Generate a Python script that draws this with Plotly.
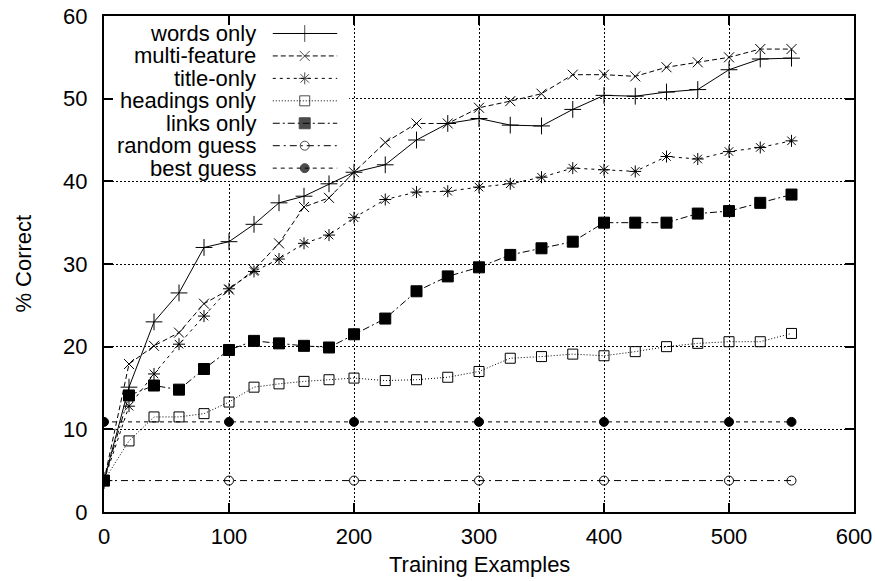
import plotly.graph_objects as go

# ---------------- data ----------------
train_x = [0, 20, 40, 60, 80, 100, 120, 140, 160, 180, 200, 225, 250, 275, 300,
           325, 350, 375, 400, 425, 450, 475, 500, 525, 550]
words_only = [3.8, 15.1, 23.0, 26.5, 32.0, 32.7, 34.8, 37.4, 38.2, 39.7, 41.1, 42.0, 45.0,
              47.0, 47.6, 46.8, 46.7, 48.7, 50.4, 50.3, 50.8, 51.1, 53.5, 54.8, 54.9]
multi_feature = [3.8, 17.9, 20.1, 21.7, 25.2, 26.9, 29.3, 32.5, 36.9, 38.0, 41.1, 44.7, 47.0,
                 47.0, 48.9, 49.7, 50.6, 52.9, 52.9, 52.7, 53.8, 54.4, 55.0, 56.0, 56.0]
title_only = [3.8, 12.8, 16.7, 20.3, 23.7, 27.0, 29.1, 30.6, 32.5, 33.5, 35.6, 37.8, 38.7,
              38.8, 39.3, 39.7, 40.5, 41.6, 41.4, 41.2, 43.0, 42.7, 43.6, 44.1, 44.9]
headings_only = [3.8, 8.6, 11.5, 11.5, 11.9, 13.3, 15.1, 15.5, 15.8, 16.0, 16.2, 15.9, 16.0,
                 16.3, 17.0, 18.6, 18.8, 19.1, 18.9, 19.4, 20.0, 20.4, 20.6, 20.6, 21.6]
links_only = [3.8, 14.1, 15.3, 14.8, 17.3, 19.6, 20.7, 20.4, 20.1, 19.9, 21.5, 23.4, 26.7,
              28.5, 29.6, 31.1, 31.9, 32.7, 35.0, 35.0, 35.0, 36.1, 36.4, 37.4, 38.4]
guess_x = [0, 100, 200, 300, 400, 500, 550]
random_guess = [3.8, 3.8, 3.8, 3.8, 3.8, 3.8, 3.8]
best_guess = [10.9, 10.9, 10.9, 10.9, 10.9, 10.9, 10.9]

series_names = ["words only", "multi-feature", "title-only", "headings only",
                "links only", "random guess", "best guess"]
x_tick_vals = [0, 100, 200, 300, 400, 500, 600]
y_tick_vals = [0, 10, 20, 30, 40, 50, 60]
x_title = "Training Examples"
y_title = "% Correct"

# ---------------- styles ----------------
FONT = "Liberation Sans, Arial, Helvetica, sans-serif"
styles = [
    dict(dash="solid", symbol="cross-thin", size=12, lw=1),
    dict(dash="5px,3px", symbol="x-thin", size=10, lw=1),
    dict(dash="3px,4px", symbol="asterisk", size=10, lw=1),
    dict(dash="1px,2px", symbol="square-open", size=10, lw=1),
    dict(dash="7px,3px,2px,3px", symbol="square", size=11, lw=1),
    dict(dash="7px,4px,2px,4px", symbol="circle-open", size=9, lw=1),
    dict(dash="4px,4px", symbol="circle", size=9, lw=1),
]
data_x = [train_x, train_x, train_x, train_x, train_x, guess_x, guess_x]
data_y = [words_only, multi_feature, title_only, headings_only, links_only,
          random_guess, best_guess]

X_RANGE = [x_tick_vals[0], x_tick_vals[-1]]
Y_RANGE = [y_tick_vals[0], y_tick_vals[-1]]

W, H = 875, 581
L, R, T, B = 103.5, 20.5, 15.5, 69.3
pw, ph = W - L - R, H - T - B

def fx(px):
    return (px - L) / pw

def fy(py):
    return (H - B - py) / ph

fig = go.Figure()

# opaque key box (drawn first, above the grid, below the data): hides grid behind the key
kx1 = X_RANGE[0] + fx(349) * (X_RANGE[1] - X_RANGE[0])
ky0 = Y_RANGE[0] + fy(180.5) * (Y_RANGE[1] - Y_RANGE[0])
fig.add_trace(go.Scatter(
    x=[X_RANGE[0], kx1, kx1, X_RANGE[0], X_RANGE[0]],
    y=[ky0, ky0, Y_RANGE[1], Y_RANGE[1], ky0],
    mode="lines", fill="toself", fillcolor="white", line=dict(width=0),
    showlegend=False, hoverinfo="skip",
))

for name, xs, ys, st in zip(series_names, data_x, data_y, styles):
    fig.add_trace(go.Scatter(
        x=xs, y=ys, name=name, mode="lines+markers", showlegend=False,
        line=dict(color="black", width=1, dash=st["dash"]),
        marker=dict(symbol=st["symbol"], size=st["size"], color="black",
                    line=dict(color="black", width=st["lw"])),
    ))

# ---------------- custom legend (gnuplot style: text right, sample on the right) ----------------
row0, row_step = 33.0, 22.45
for i, (name, st) in enumerate(zip(series_names, styles)):
    yy = fy(row0 + i * row_step)
    fig.add_annotation(text=name, xref="paper", yref="paper", x=fx(258), y=yy,
                       xanchor="right", yanchor="middle", showarrow=False,
                       font=dict(family=FONT, size=22, color="black"))
    fig.add_trace(go.Scatter(
        x=[fx(272.5), fx(304.5), fx(337)], y=[yy, yy, yy], mode="lines+markers",
        xaxis="x2", yaxis="y2", showlegend=False, hoverinfo="skip",
        line=dict(color="black", width=1, dash=st["dash"]),
        marker=dict(symbol=st["symbol"], size=[0, st["size"], 0], color="black",
                    line=dict(color="black", width=st["lw"])),
    ))

# axis titles
fig.add_annotation(text=x_title, xref="paper", yref="paper", x=0.5, y=fy(564),
                   xanchor="center", yanchor="middle", showarrow=False,
                   font=dict(family=FONT, size=22, color="black"))
fig.add_annotation(text=y_title, xref="paper", yref="paper", x=fx(22), y=0.5,
                   xanchor="center", yanchor="middle", showarrow=False, textangle=-90,
                   font=dict(family=FONT, size=22, color="black"))

axis_common = dict(
    showline=True, linecolor="black", linewidth=2, mirror="ticks",
    ticks="inside", ticklen=9, tickwidth=1.5, tickcolor="black",
    showgrid=True, gridcolor="#000000", gridwidth=1, griddash="2px,2px",
    zeroline=False, automargin=False,
    tickfont=dict(family=FONT, size=22, color="black"),
)

fig.update_layout(
    width=W, height=H,
    margin=dict(l=L, r=R, t=T, b=B, autoexpand=False),
    paper_bgcolor="white", plot_bgcolor="white",
    xaxis=dict(range=X_RANGE, tickvals=x_tick_vals, ticklabelstandoff=4, **axis_common),
    yaxis=dict(range=Y_RANGE, tickvals=y_tick_vals, ticklabelstandoff=10, **axis_common),
    xaxis2=dict(overlaying="x", range=[0, 1], visible=False),
    yaxis2=dict(overlaying="y", range=[0, 1], visible=False),
    font=dict(family=FONT, size=22, color="black"),
)

fig.write_html("out.html")
